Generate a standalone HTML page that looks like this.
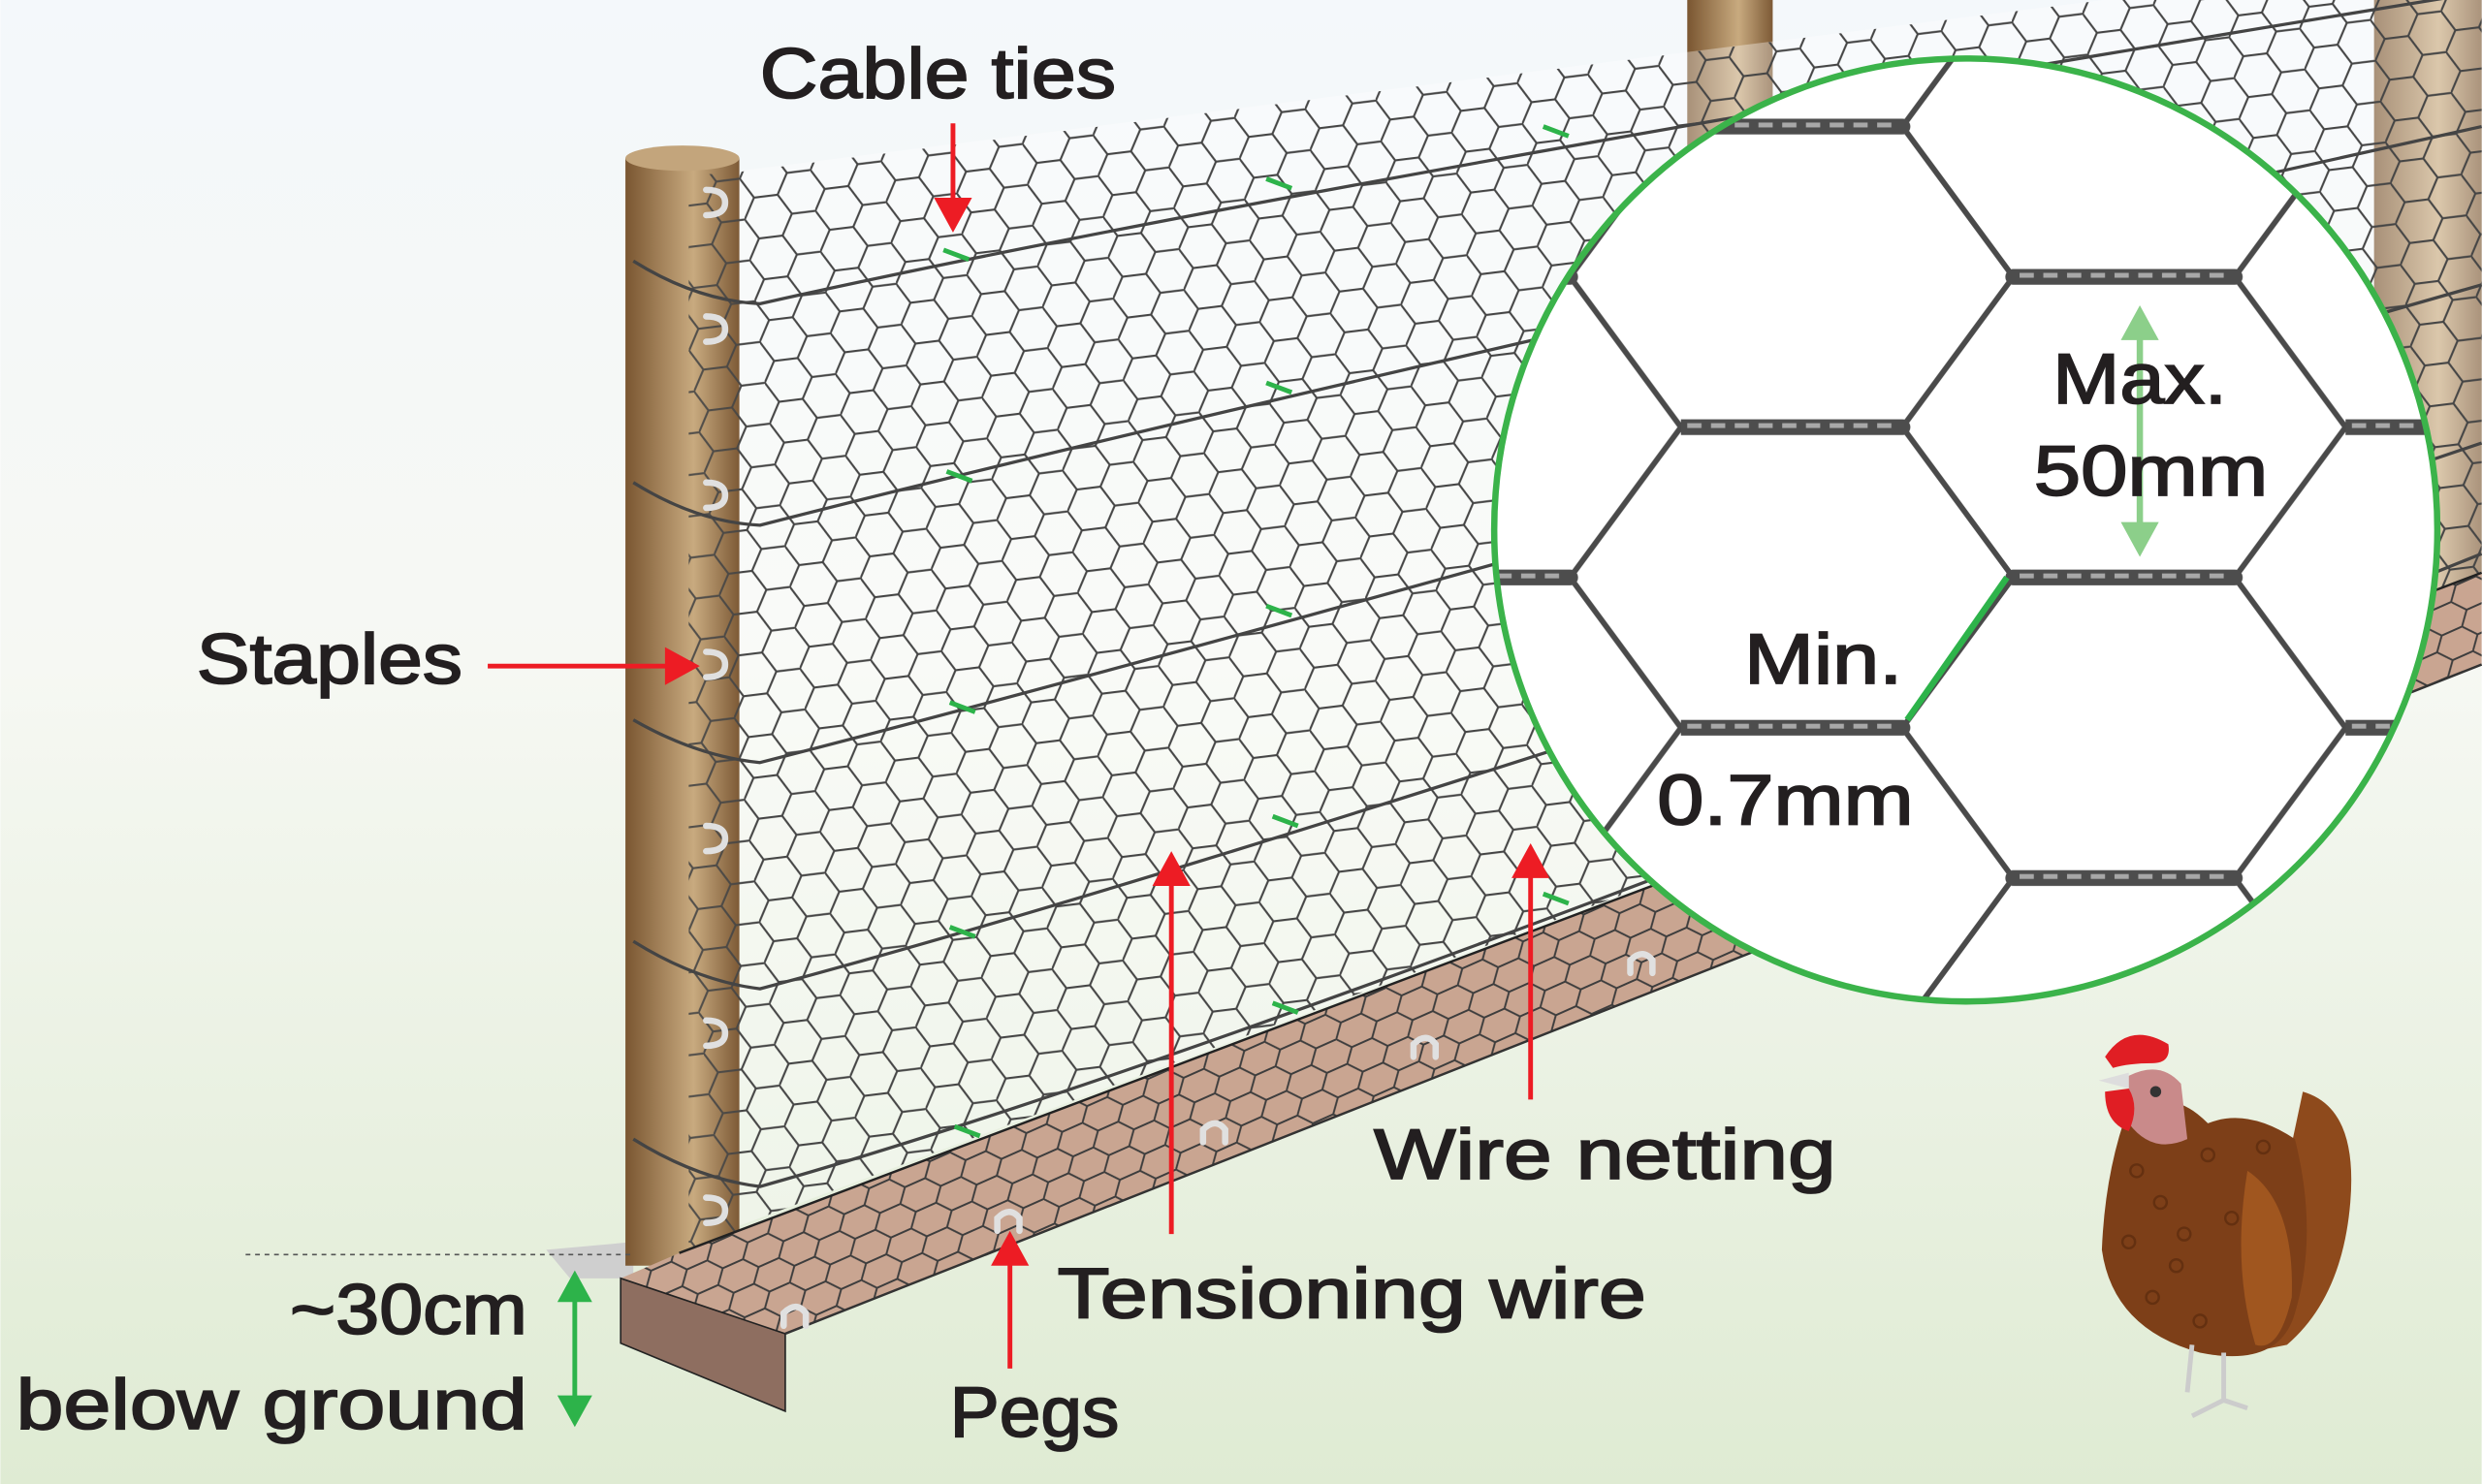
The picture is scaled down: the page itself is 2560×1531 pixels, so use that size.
<!DOCTYPE html>
<html><head><meta charset="utf-8"><style>
html,body{margin:0;padding:0;background:#fff}
svg{display:block}
text{font-family:"Liberation Sans",sans-serif;fill:#231f20;stroke:#231f20;stroke-width:1.1}
</style></head><body>
<svg width="2560" height="1531" viewBox="0 0 1568 938" xmlns="http://www.w3.org/2000/svg">
<defs>
<linearGradient id="bg" x1="0" y1="0" x2="0" y2="1">
<stop offset="0" stop-color="#f4f8fb"/><stop offset="0.45" stop-color="#f6f8f3"/><stop offset="1" stop-color="#dfebd3"/>
</linearGradient>
<linearGradient id="post" x1="0" y1="0" x2="1" y2="0">
<stop offset="0" stop-color="#7a5631"/><stop offset="0.6" stop-color="#c8aa7f"/><stop offset="1" stop-color="#7d5a36"/>
</linearGradient>
<pattern id="hex" width="45" height="26" patternUnits="userSpaceOnUse" patternTransform="rotate(-7)">
<path d="M0,13 L7.5,0 L22.5,0 L30,13 L22.5,26 L7.5,26 Z M30,13 L45,13" fill="none" stroke="#454545" stroke-width="1.3"/>
</pattern>
<pattern id="hex2" width="42" height="17" patternUnits="userSpaceOnUse" patternTransform="rotate(-24)">
<path d="M0,8.5 L7,0 L21,0 L28,8.5 L21,17 L7,17 Z M28,8.5 L42,8.5" fill="none" stroke="#3d3d3d" stroke-width="1.2"/>
</pattern>
<pattern id="big" width="420" height="190" patternUnits="userSpaceOnUse" patternTransform="translate(1062,80)">
<g fill="none" stroke="#4a4a4a" stroke-width="3.5" stroke-linecap="round">
<path d="M140,0 L210,95 L140,190 M350,95 L420,0 M350,95 L420,190"/>
</g>
<g stroke="#4d4d4d" stroke-width="10" stroke-linecap="round"><path d="M0,0 H140 M210,95 H350 M0,190 H140"/></g>
<g stroke="#a8a8a8" stroke-width="3" stroke-dasharray="9 6"><path d="M4,-1 H136 M214,94 H346 M4,189 H136"/></g>
</pattern>
<clipPath id="circ"><circle cx="1242" cy="335" r="298"/></clipPath>
</defs>
<rect width="1568" height="938" fill="url(#bg)"/>

<rect x="1066" y="0" width="54" height="120" fill="url(#post)"/>
<rect x="1500" y="0" width="68" height="380" fill="url(#post)"/>

<polygon points="467,108 1568,-30 1568,362 453,780" fill="rgba(255,255,255,0.35)"/>
<polygon points="440,112 1568,-30 1568,362 453,780 440,790" fill="url(#hex)"/>

<polygon points="345,790 400,785 400,808 360,808" fill="#cfcfcf"/>

<rect x="395" y="100" width="72" height="700" fill="url(#post)"/>
<ellipse cx="431" cy="100" rx="36" ry="8" fill="#c3a57c"/>
<rect x="435" y="110" width="32" height="680" fill="url(#hex)" opacity="0.9"/>
<g fill="none" stroke="#e0e0e0" stroke-width="4" stroke-linecap="round">
<path d="M446,120 q12,0 12,8 q0,8 -12,8"/><path d="M446,200 q12,0 12,8 q0,8 -12,8"/><path d="M446,305 q12,0 12,8 q0,8 -12,8"/><path d="M446,412 q12,0 12,8 q0,8 -12,8"/><path d="M446,522 q12,0 12,8 q0,8 -12,8"/><path d="M446,645 q12,0 12,8 q0,8 -12,8"/><path d="M446,757 q12,0 12,8 q0,8 -12,8"/>
</g>

<g fill="none" stroke="#444" stroke-width="2">
<path d="M400,165 Q440,190 480,192 Q800,120 1568,-5"/>
<path d="M400,305 Q440,330 480,332 Q800,250 1568,80"/>
<path d="M400,455 Q440,478 480,482 Q800,400 1568,180"/>
<path d="M400,595 Q440,620 480,625 Q800,540 1568,280"/>
<path d="M400,720 Q440,745 480,750 Q800,660 1568,350"/>
</g>
<g fill="none" stroke="#2db34a" stroke-width="3">
<path d="M596,158 l16,6"/><path d="M800,113 l16,6"/><path d="M975,80 l16,6"/><path d="M598,298 l16,6"/><path d="M800,242 l16,6"/><path d="M600,444 l16,6"/><path d="M800,383 l16,6"/><path d="M600,586 l16,6"/><path d="M804,516 l16,6"/><path d="M603,712 l16,6"/><path d="M804,634 l16,6"/><path d="M975,565 l16,6"/>
</g>

<polygon points="392,808 429,792 1568,362 1568,420 496,843" fill="#c9a591"/>
<polygon points="392,808 429,792 1568,362 1568,420 496,843" fill="url(#hex2)"/>
<polygon points="392,808 496,843 496,892 392,849" fill="#8e6e60" stroke="#222" stroke-width="1"/>
<line x1="496" y1="843" x2="1568" y2="420" stroke="#333" stroke-width="1.5"/>
<line x1="429" y1="792" x2="1568" y2="362" stroke="#222" stroke-width="1.5"/>
<g fill="none" stroke="#e0e0e0" stroke-width="4" stroke-linecap="round">
<path d="M495,838 v-8 q8,-8 14,0 v8"/><path d="M630,778 v-8 q8,-8 14,0 v8"/><path d="M760,722 v-8 q8,-8 14,0 v8"/><path d="M893,668 v-8 q8,-8 14,0 v8"/><path d="M1030,615 v-8 q8,-8 14,0 v8"/>
</g>

<circle cx="1242" cy="335" r="298" fill="#fff"/>
<rect x="940" y="30" width="610" height="610" fill="url(#big)" clip-path="url(#circ)"/>
<line x1="1205" y1="455" x2="1268" y2="365" stroke="#2db34a" stroke-width="4"/>
<circle cx="1242" cy="335" r="298" fill="none" stroke="#3bb34a" stroke-width="4"/>
<g stroke="#8ccf8a" stroke-width="4" fill="#8ccf8a">
<line x1="1352" y1="205" x2="1352" y2="340"/>
<path d="M1340,215 L1352,193 L1364,215Z" stroke="none"/><path d="M1340,330 L1352,352 L1364,330Z" stroke="none"/>
</g>

<g stroke="#ed1c24" stroke-width="3" fill="#ed1c24">
<line x1="602" y1="78" x2="602" y2="130"/><path d="M590,125 L602,147 L614,125Z" stroke="none"/>
<line x1="308" y1="421" x2="425" y2="421"/><path d="M420,409 L442,421 L420,433Z" stroke="none"/>
<line x1="740" y1="780" x2="740" y2="555"/><path d="M728,560 L740,538 L752,560Z" stroke="none"/>
<line x1="967" y1="695" x2="967" y2="550"/><path d="M955,555 L967,533 L979,555Z" stroke="none"/>
<line x1="638" y1="865" x2="638" y2="795"/><path d="M626,800 L638,778 L650,800Z" stroke="none"/>
</g>
<line x1="155" y1="793" x2="400" y2="793" stroke="#555" stroke-width="1" stroke-dasharray="3 3"/>
<g fill="#2db34a" stroke="#2db34a" stroke-width="3">
<line x1="363" y1="815" x2="363" y2="890"/><path d="M352,823 L363,803 L374,823Z" stroke="none"/><path d="M352,882 L363,902 L374,882Z" stroke="none"/>
</g>

<g>
<path d="M1455,690 Q1490,700 1485,760 Q1480,820 1445,850 L1420,855 Z" fill="#8e4a1c"/>
<path d="M1345,700 Q1330,740 1328,790 Q1335,840 1390,855 Q1440,865 1450,830 Q1465,780 1450,720 Q1420,700 1395,710 Q1375,690 1360,700Z" fill="#7d3f18"/>
<g fill="none" stroke="#5a2a0e" stroke-width="1.5" opacity="0.7">
<circle cx="1350" cy="740" r="4"/><circle cx="1365" cy="760" r="4"/><circle cx="1345" cy="785" r="4"/><circle cx="1375" cy="800" r="4"/><circle cx="1395" cy="730" r="4"/><circle cx="1410" cy="770" r="4"/><circle cx="1360" cy="820" r="4"/><circle cx="1390" cy="835" r="4"/><circle cx="1430" cy="725" r="4"/><circle cx="1380" cy="780" r="4"/>
</g>
<path d="M1420,740 Q1450,760 1448,820 Q1440,855 1425,850 Q1410,800 1420,740Z" fill="#a0561f"/>
<path d="M1345,680 Q1365,670 1378,685 L1382,720 Q1360,730 1345,710Z" fill="#c98a8a"/>
<path d="M1330,668 Q1345,645 1370,660 Q1372,672 1360,672 Q1345,672 1335,675Z" fill="#e01e24"/>
<path d="M1330,690 Q1330,710 1345,715 Q1352,700 1345,688Z" fill="#e01e24"/>
<path d="M1326,683 L1345,678 L1345,688Z" fill="#ddd"/>
<circle cx="1362" cy="690" r="3.5" fill="#333"/>
<g stroke="#ccc" stroke-width="3" fill="none"><path d="M1385,850 L1382,880"/><path d="M1405,855 L1405,885 L1385,895 M1405,885 L1420,890"/></g>
</g>

<g font-size="45" lengthAdjust="spacingAndGlyphs">
<text x="480" y="62" textLength="225" lengthAdjust="spacingAndGlyphs">Cable ties</text>
<text x="124" y="432" textLength="168" lengthAdjust="spacingAndGlyphs">Staples</text>
<text x="1297" y="255" textLength="110" lengthAdjust="spacingAndGlyphs">Max.</text>
<text x="1285" y="313" textLength="148" lengthAdjust="spacingAndGlyphs">50mm</text>
<text x="1102" y="432" textLength="100" lengthAdjust="spacingAndGlyphs">Min.</text>
<text x="1047" y="521" textLength="162" lengthAdjust="spacingAndGlyphs">0.7mm</text>
<text x="868" y="745" textLength="292" lengthAdjust="spacingAndGlyphs">Wire netting</text>
<text x="668" y="833" textLength="372" lengthAdjust="spacingAndGlyphs">Tensioning wire</text>
<text x="600" y="908" textLength="107" lengthAdjust="spacingAndGlyphs">Pegs</text>
<text x="183" y="843" textLength="150" lengthAdjust="spacingAndGlyphs">~30cm</text>
<text x="10" y="903" textLength="323" lengthAdjust="spacingAndGlyphs">below ground</text>
</g>
</svg>
</body></html>
